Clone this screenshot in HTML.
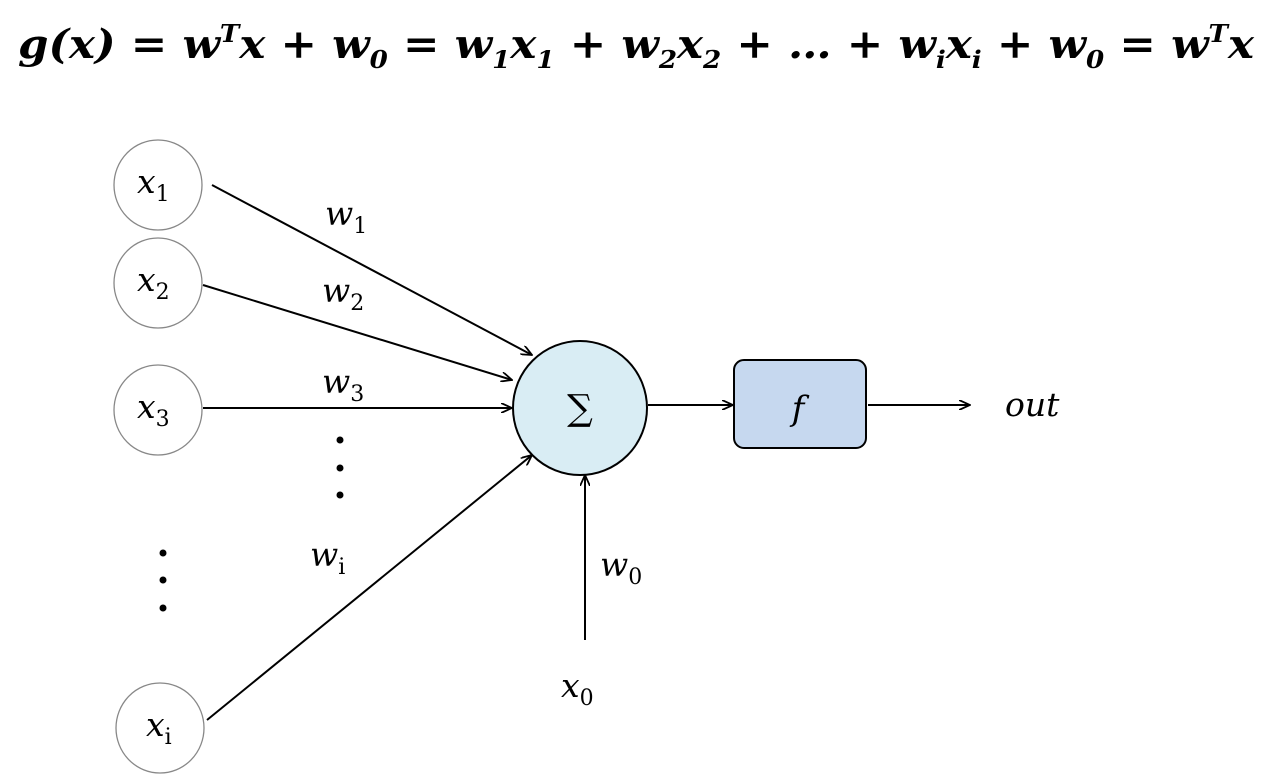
<!DOCTYPE html>
<html><head><meta charset="utf-8"><style>
html,body{margin:0;padding:0;background:#fff;}
svg{display:block}
.m{font-family:"DejaVu Serif","Liberation Serif",serif;font-style:italic;}
.s{font-style:normal;font-size:22px}
</style></head><body>
<svg width="1272" height="784" viewBox="0 0 1272 784" xmlns="http://www.w3.org/2000/svg">
<defs>
<marker id="a" markerWidth="12" markerHeight="10" refX="11" refY="5" orient="auto" markerUnits="userSpaceOnUse">
<path d="M0,0 L11,5 L0,10" fill="none" stroke="#000" stroke-width="1.8"/>
</marker>
</defs>
<text x="18" y="58" font-family="'DejaVu Serif','Liberation Serif',serif" font-style="italic" font-weight="bold" font-size="40" textLength="1236" lengthAdjust="spacingAndGlyphs">g(x) = w<tspan font-size="24" dy="-16">T</tspan><tspan dy="16">x + w</tspan><tspan font-size="24" dy="10">0</tspan><tspan dy="-10"> = w</tspan><tspan font-size="24" dy="10">1</tspan><tspan dy="-10">x</tspan><tspan font-size="24" dy="10">1</tspan><tspan dy="-10"> + w</tspan><tspan font-size="24" dy="10">2</tspan><tspan dy="-10">x</tspan><tspan font-size="24" dy="10">2</tspan><tspan dy="-10"> +  … + w</tspan><tspan font-size="24" dy="10">i</tspan><tspan dy="-10">x</tspan><tspan font-size="24" dy="10">i</tspan><tspan dy="-10"> + w</tspan><tspan font-size="24" dy="10">0</tspan><tspan dy="-10"> = w</tspan><tspan font-size="24" dy="-16">T</tspan><tspan dy="16">x</tspan></text>

<g fill="#fff" stroke="#888" stroke-width="1.3">
<ellipse cx="158" cy="185" rx="44" ry="45"/>
<ellipse cx="158" cy="283" rx="44" ry="45"/>
<ellipse cx="158" cy="410" rx="44" ry="45"/>
<ellipse cx="160" cy="728" rx="44" ry="45"/>
</g>
<g class="m" font-size="33">
<text x="137" y="193">x<tspan class="s" dy="8">1</tspan></text>
<text x="137" y="291">x<tspan class="s" dy="8">2</tspan></text>
<text x="137" y="418">x<tspan class="s" dy="8">3</tspan></text>
<text x="146" y="736">x<tspan class="s" dy="8">i</tspan></text>
</g>
<g stroke="#000" stroke-width="2" fill="none" marker-end="url(#a)">
<line x1="212" y1="185" x2="532" y2="355"/>
<line x1="203" y1="285" x2="512" y2="380"/>
<line x1="203" y1="408" x2="512" y2="408"/>
<line x1="207" y1="720" x2="532" y2="455"/>
<line x1="585" y1="640" x2="585" y2="475"/>
<line x1="648" y1="405" x2="733" y2="405"/>
<line x1="868" y1="405" x2="970" y2="405"/>
</g>
<circle cx="580" cy="408" r="67" fill="#d9edf4" stroke="#000" stroke-width="2"/>
<text x="580" y="420" text-anchor="middle" font-family="'DejaVu Serif',serif" font-size="36">∑</text>
<rect x="734" y="360" width="132" height="88" rx="10" fill="#c6d8ef" stroke="#000" stroke-width="2"/>
<text x="798" y="420" text-anchor="middle" class="m" font-size="34">f</text>
<g class="m" font-size="33">
<text x="325" y="225">w<tspan class="s" dy="8">1</tspan></text>
<text x="322" y="302">w<tspan class="s" dy="8">2</tspan></text>
<text x="322" y="393">w<tspan class="s" dy="8">3</tspan></text>
<text x="310" y="566">w<tspan class="s" dy="8">i</tspan></text>
<text x="600" y="576">w<tspan class="s" dy="8">0</tspan></text>
<text x="561" y="697">x<tspan class="s" dy="8">0</tspan></text>
<text x="1005" y="416">out</text>
</g>
<g fill="#000">
<circle cx="340" cy="440" r="3.5"/><circle cx="340" cy="468" r="3.5"/><circle cx="340" cy="495" r="3.5"/>
<circle cx="163" cy="553" r="3.5"/><circle cx="163" cy="580" r="3.5"/><circle cx="163" cy="608" r="3.5"/>
</g>
</svg>
</body></html>
